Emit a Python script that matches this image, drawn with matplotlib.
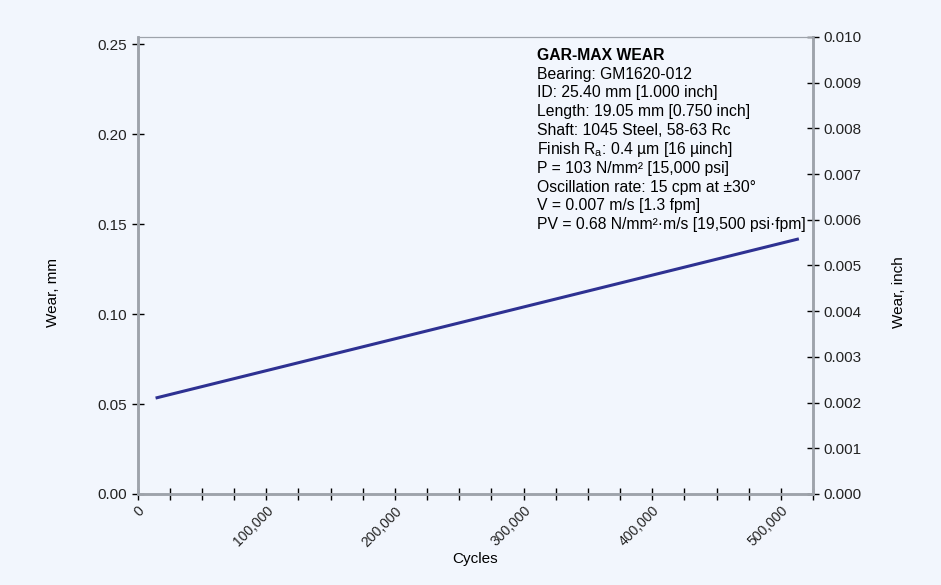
import matplotlib.pyplot as plt
from matplotlib.ticker import FuncFormatter, MultipleLocator

plt.rcParams['font.family'] = ['Liberation Sans', 'DejaVu Sans']
plt.rcParams['mathtext.fontset'] = 'custom'
plt.rcParams['mathtext.rm'] = 'Liberation Sans'

# data (linear wear trend)
cycles = [14000, 514000]
wear_mm = [0.0533, 0.1418]

info_title = "GAR-MAX WEAR"
info_lines = [
    "Bearing: GM1620-012",
    "ID: 25.40 mm [1.000 inch]",
    "Length: 19.05 mm [0.750 inch]",
    "Shaft: 1045 Steel, 58-63 Rc",
    r"Finish R$_\mathregular{a}$: 0.4 µm [16 µinch]",
    "P = 103 N/mm² [15,000 psi]",
    "Oscillation rate: 15 cpm at ±30°",
    "V = 0.007 m/s [1.3 fpm]",
    "PV = 0.68 N/mm²·m/s [19,500 psi·fpm]",
]

bg = "#f2f6fd"
spine_col = "#9ea3ab"
line_col = "#2e3192"
fs = 11

fig = plt.figure(figsize=(9.41, 5.85), dpi=100, facecolor=bg)
ax = fig.add_axes([0.1462, 0.1556, 0.7178, 0.7812], facecolor=bg)

ax.plot(cycles, wear_mm, color=line_col, lw=2.2, solid_capstyle="butt")

ax.set_xlim(0, 525000)
ax.set_ylim(0, 0.254)
ax.xaxis.set_major_locator(MultipleLocator(100000))
ax.xaxis.set_minor_locator(MultipleLocator(25000))
ax.xaxis.set_major_formatter(FuncFormatter(lambda v, p: f"{int(v):,}"))
ax.yaxis.set_major_locator(MultipleLocator(0.05))
ax.yaxis.set_major_formatter(FuncFormatter(lambda v, p: f"{v:.2f}"))
ax.tick_params(axis="both", which="both", direction="inout", length=8, width=1,
               color="black", labelsize=fs, labelcolor="#222222")
ax.tick_params(axis="x", pad=3, labelsize=10)
for lab in ax.get_xticklabels():
    lab.set_rotation(45)
    lab.set_ha("right")
    lab.set_va("top")
    lab.set_rotation_mode("anchor")

ax2 = ax.twinx()
ax2.set_ylim(0, 0.010)
ax2.yaxis.set_major_locator(MultipleLocator(0.001))
ax2.yaxis.set_major_formatter(FuncFormatter(lambda v, p: f"{v:.3f}"))
ax2.tick_params(axis="y", direction="inout", length=8, width=1, color="black",
                labelsize=fs, labelcolor="#222222")

for a in (ax, ax2):
    for side in ("left", "right", "bottom"):
        a.spines[side].set_color(spine_col)
        a.spines[side].set_linewidth(1.8)
    a.spines["top"].set_color(spine_col)
    a.spines["top"].set_linewidth(0.8)

fig.text(0.505, 0.045, "Cycles", ha="center", va="center", fontsize=fs)
fig.text(0.056, 0.5, "Wear, mm", rotation=90, ha="center", va="center", fontsize=fs)
fig.text(0.955, 0.5, "Wear, inch", rotation=90, ha="center", va="center", fontsize=fs)

tx, ty = 0.5705, 0.9055
tfs = 11.3
fig.text(tx, ty, info_title, fontsize=tfs, fontweight="bold", va="center")
for i, s in enumerate(info_lines):
    fig.text(tx, ty - (i + 1) * 0.0322, s, fontsize=tfs, va="center")

fig.savefig("out.png", dpi=100, facecolor=bg)
